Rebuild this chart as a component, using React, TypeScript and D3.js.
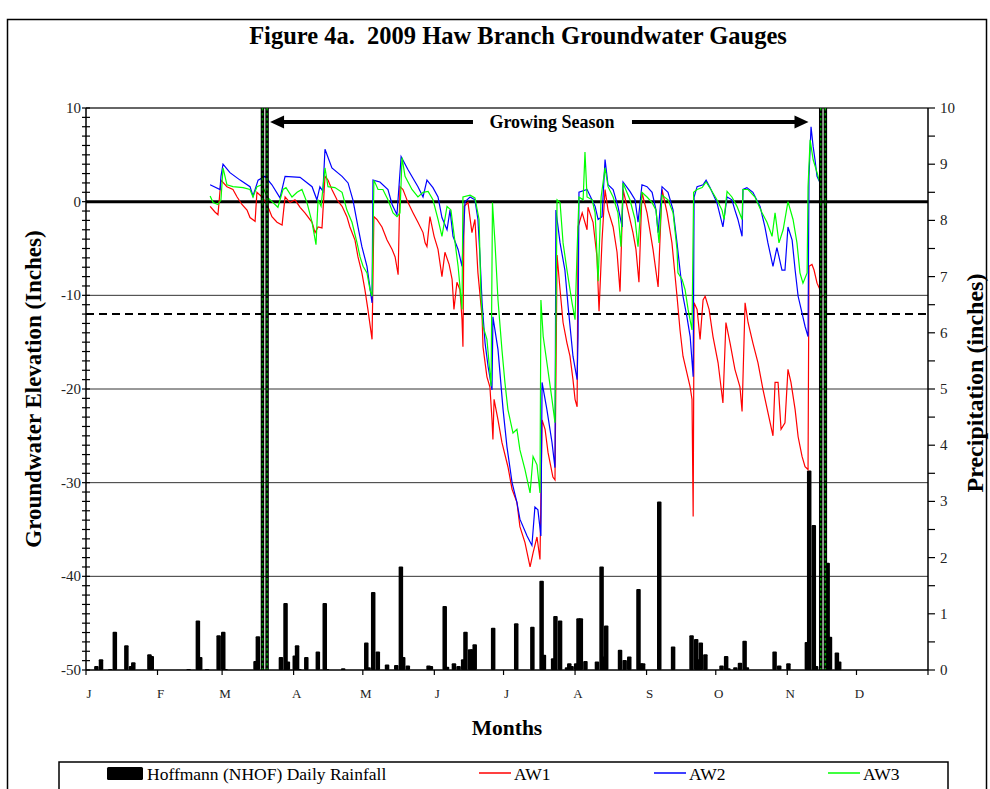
import { useEffect, useRef } from 'react';
import * as d3 from 'd3';

// x axis: day of 2009 (0 = Jan 1)
const monthLabels = ['J', 'F', 'M', 'A', 'M', 'J', 'J', 'A', 'S', 'O', 'N', 'D'];
const monthStarts = [0, 31, 59, 90, 120, 151, 181, 212, 243, 273, 304, 334, 365];

const gwTicks = [10, 0, -10, -20, -30, -40, -50];
const precipTicks = [10, 9, 8, 7, 6, 5, 4, 3, 2, 1, 0];
const gridLevels = [-10, -20, -30, -40];
const criteriaLevel = -12;

// growing season boundaries (double lines) and arrow span
const growingSeasonLines = [76.5, 78.5, 318.5, 320.5];
const arrowSpan = [79.8, 313.2];

// groundwater levels [day, inches]
const aw1: [number, number][] = [
  [53.8, -0.5], [55.9, -1.1], [57.2, -1.4], [58.5, 2.3], [61.1, 1.6], [63.7, 1.3], [65.5, 0.5], [67.6, -0.3],
  [69.8, -0.9], [71.1, -1.7], [73.3, -2.1], [74.1, 1.0], [76.3, 0.5], [78.5, -0.3], [80.6, -1.6], [82.8, -2.2],
  [85.0, -2.5], [86.3, 0.5], [88.4, -0.1], [90.6, 0.2], [92.8, -0.6], [94.9, -1.2], [98.0, -2.2], [99.3, -3.3],
  [100.6, -2.7], [102.3, -2.8], [103.6, 2.7], [104.9, 2.3], [106.6, 1.3], [108.8, 0.2], [111.0, -0.5], [113.1, -1.6],
  [114.4, -2.7], [116.6, -4.1], [117.9, -5.9], [119.6, -7.6], [120.9, -9.4], [122.2, -11.5], [124.0, -14.7],
  [124.8, -1.6], [126.1, -1.9], [128.3, -2.7], [130.5, -4.1], [132.7, -5.1], [134.0, -5.9], [135.3, -7.8],
  [136.1, 1.6], [137.4, 1.3], [139.6, -0.1], [141.8, -1.2], [143.9, -2.2], [146.1, -3.3], [147.0, -4.4],
  [147.8, -4.8], [149.1, -1.6], [150.9, -3.7], [152.6, -5.1], [154.3, -8.0], [155.6, -5.4], [157.4, -6.7],
  [158.7, -8.3], [159.5, -11.5], [160.8, -8.6], [162.1, -9.4], [163.0, -12.6], [163.4, -15.5], [163.9, -0.5],
  [165.6, -0.1], [167.3, -3.3], [168.6, -1.9], [169.9, -7.6], [171.7, -12.3], [172.1, -15.5], [173.8, -18.7],
  [175.1, -19.8], [176.0, -23.3], [176.4, -25.4], [176.9, -21.1], [178.6, -23.3], [180.3, -25.7], [182.9, -28.3],
  [184.7, -30.7], [186.8, -32.1], [188.1, -34.7], [190.3, -36.4], [192.5, -39.0], [193.8, -37.5], [195.5, -35.8],
  [196.8, -38.2], [197.7, -23.3], [199.0, -24.3], [200.3, -26.8], [202.4, -29.4], [203.3, -29.7], [204.2, -5.7],
  [205.5, -9.4], [206.8, -12.9], [208.5, -15.1], [209.8, -16.5], [211.1, -19.0], [212.0, -21.1], [212.9, -21.9],
  [213.3, -2.7], [215.1, -1.2], [217.2, -3.0], [217.6, -0.6], [219.8, -2.2], [221.5, -5.9], [222.4, -11.7],
  [223.7, -4.1], [225.0, 1.3], [226.3, -0.9], [228.5, -2.7], [230.2, -5.4], [231.5, -9.6], [232.8, 1.3],
  [234.9, -0.9], [237.1, -3.3], [238.4, -5.1], [239.7, -8.6], [241.0, 1.0], [243.2, -1.2], [245.8, -5.1],
  [248.0, -9.1], [249.7, 1.3], [251.9, -1.2], [254.0, -4.4], [256.2, -10.1], [257.5, -13.7], [258.8, -16.5],
  [260.5, -18.3], [261.9, -19.8], [262.7, -21.1], [263.2, -33.6], [263.6, -10.8], [264.9, -11.5], [266.2, -14.7],
  [267.5, -10.5], [268.4, -10.1], [270.1, -11.5], [271.8, -14.4], [274.0, -17.2], [276.1, -21.5], [277.4, -12.9],
  [279.2, -15.1], [281.3, -17.9], [283.5, -19.8], [284.4, -22.4], [285.7, -10.8], [287.0, -12.9], [289.1, -15.1],
  [291.3, -17.2], [293.5, -20.1], [295.6, -22.5], [297.8, -25.0], [298.7, -19.3], [300.0, -19.3], [301.3, -24.3],
  [303.0, -23.6], [304.3, -17.9], [305.6, -19.3], [307.4, -22.2], [308.7, -25.1], [310.4, -27.2], [311.7, -28.3],
  [313.0, -28.6], [313.4, -6.9], [314.7, -6.7], [315.6, -7.3], [316.9, -8.7], [318.2, -9.4], [319.1, -10.2],
];

const aw2: [number, number][] = [
  [53.8, 1.8], [58.1, 1.3], [58.5, 2.7], [59.4, 4.0], [62.4, 3.1], [66.8, 2.3], [71.1, 1.6], [72.4, 0.6],
  [74.6, 2.3], [77.6, 2.7], [80.6, 1.8], [84.1, 0.4], [86.3, 2.7], [92.8, 2.6], [98.0, 1.6], [100.1, 0.2],
  [101.4, 1.6], [102.7, 1.1], [103.6, 5.6], [106.6, 3.6], [111.0, 2.7], [113.6, 2.0], [115.7, 0.2], [117.9, -2.7],
  [119.6, -4.8], [121.8, -6.9], [124.0, -10.8], [124.4, 2.3], [127.4, 2.1], [130.9, 1.3], [132.7, -0.3],
  [134.8, -1.4], [136.6, 4.8], [139.6, 3.4], [143.9, 1.6], [146.1, 0.5], [147.8, 2.3], [150.4, 1.5], [152.6, 0.5],
  [154.3, -1.7], [156.5, -3.0], [157.8, -0.9], [159.1, -3.7], [161.3, -5.1], [163.0, -6.9], [164.3, 0.0],
  [166.5, 0.5], [168.6, 0.2], [169.9, -1.9], [170.8, -5.9], [171.7, -10.8], [173.0, -15.1], [174.3, -17.6],
  [176.0, -20.1], [176.4, -12.3], [178.6, -15.8], [180.8, -22.2], [182.5, -26.2], [184.7, -30.0], [186.8, -32.1],
  [188.1, -33.9], [191.2, -35.7], [193.3, -36.7], [194.6, -32.6], [195.9, -32.9], [197.2, -35.7], [197.7, -19.3],
  [199.8, -22.2], [202.0, -25.7], [203.3, -28.4], [203.7, -0.9], [205.5, -4.4], [207.6, -7.3], [209.0, -11.2],
  [211.1, -16.5], [212.9, -19.0], [213.3, -14.4], [213.7, 1.0], [217.2, 1.3], [220.7, -0.5], [222.0, -1.9],
  [223.7, -1.6], [225.0, 4.5], [226.3, 1.8], [228.5, 1.3], [230.6, -0.5], [232.4, -2.7], [232.8, 2.1],
  [235.8, 1.1], [238.0, 0.2], [239.3, -2.2], [241.0, 1.8], [243.2, 1.6], [245.4, 1.0], [247.1, -0.9],
  [248.0, -3.3], [249.7, 1.6], [252.3, 1.0], [254.5, -0.9], [256.2, -4.4], [257.5, -7.3], [258.8, -10.1],
  [260.5, -12.3], [261.9, -14.4], [263.2, -18.7], [263.6, 0.5], [264.9, 1.6], [267.5, 1.8], [268.8, 2.3],
  [270.5, 1.5], [273.5, -0.1], [276.1, -2.7], [277.9, 0.5], [280.0, 0.2], [281.3, -0.9], [282.6, -1.9],
  [284.4, -3.7], [284.8, 1.3], [286.5, 1.5], [289.1, 1.0], [292.2, -0.5], [294.3, -2.7], [295.6, -4.4],
  [297.8, -6.9], [299.5, -4.9], [301.7, -7.3], [303.0, -7.3], [304.3, -2.7], [306.1, -4.1], [307.4, -7.3],
  [308.7, -10.1], [310.4, -11.9], [311.7, -13.3], [313.0, -14.4], [313.4, 2.7], [314.3, 8.0], [315.2, 5.9],
  [316.0, 4.5], [316.9, 2.7], [318.6, 1.8],
];

const aw3: [number, number][] = [
  [53.8, 0.6], [55.1, -0.1], [57.2, -0.3], [58.5, 0.2], [59.4, 3.6], [61.1, 1.8], [63.7, 1.6], [68.1, 1.5],
  [71.1, 1.3], [72.4, 0.5], [74.1, 1.6], [76.3, 1.8], [78.5, 0.5], [81.1, -0.1], [83.2, -0.6], [85.4, 1.3],
  [86.7, 1.5], [89.3, 0.5], [91.5, 1.0], [93.6, 1.3], [95.8, -0.1], [98.0, -2.2], [99.7, -4.6], [100.6, 0.2],
  [101.9, -0.5], [103.6, 3.6], [104.9, 1.6], [107.9, 1.5], [111.0, 1.0], [113.1, -0.9], [115.3, -2.2],
  [117.5, -4.4], [118.8, -5.9], [120.1, -6.9], [121.8, -7.6], [123.1, -9.4], [124.0, -10.1], [124.8, 2.3],
  [126.6, 1.3], [128.7, 1.3], [130.9, 0.2], [133.1, -1.2], [134.8, -1.6], [136.1, -1.2], [137.0, 4.7],
  [138.3, 2.7], [141.3, 1.3], [143.9, 0.5], [146.1, 1.0], [148.3, 1.1], [150.4, 0.2], [152.6, -1.9],
  [154.3, -3.7], [156.5, -0.5], [158.2, -0.9], [160.0, -4.4], [161.3, -6.9], [163.0, -11.5], [163.4, 0.5],
  [166.5, 0.7], [168.6, 0.4], [170.4, -1.9], [171.2, -10.1], [172.1, -13.3], [173.8, -14.7], [174.7, -17.2],
  [175.6, -19.7], [176.2, -0.1], [177.3, -4.4], [178.6, -10.5], [180.3, -15.8], [181.6, -19.3], [182.9, -22.2],
  [185.1, -24.7], [186.8, -24.3], [188.1, -26.5], [190.3, -28.6], [192.5, -31.1], [193.8, -27.2], [195.5, -28.1],
  [196.8, -31.1], [197.2, -10.5], [198.2, -14.4], [199.8, -17.2], [202.0, -21.1], [203.3, -23.6], [204.2, 0.2],
  [205.5, -0.1], [206.8, -4.4], [208.5, -7.3], [210.7, -10.8], [212.0, -12.6], [212.9, -5.1], [213.7, 0.5],
  [215.5, 0.2], [216.3, 5.3], [217.2, 0.5], [219.4, 0.2], [220.7, -1.2], [222.0, -8.5], [223.3, 0.5],
  [225.0, 3.6], [226.3, 1.6], [228.5, 0.5], [230.6, -1.2], [231.9, -4.8], [232.8, 2.0], [235.8, 0.2],
  [238.0, -1.9], [239.3, -4.8], [241.0, 1.0], [243.2, 0.5], [245.4, -0.1], [247.1, -0.9], [248.4, -4.4],
  [249.7, 0.7], [252.3, 0.2], [254.5, -1.2], [256.2, -5.1], [256.6, -7.6], [258.4, -8.3], [259.7, -9.4],
  [261.0, -11.5], [262.7, -13.7], [263.4, 1.0], [264.9, 1.3], [267.1, 1.5], [268.8, 2.1], [270.9, 1.3],
  [273.5, 0.2], [275.7, -0.9], [276.6, -1.9], [277.9, 1.1], [280.0, 0.5], [282.2, -0.5], [284.4, -1.9],
  [284.8, 1.3], [287.0, 1.3], [290.0, 0.5], [293.1, -1.2], [295.2, -2.2], [297.4, -3.7], [298.7, -1.2],
  [300.4, -4.4], [302.2, -3.0], [304.3, 0.0], [306.5, -1.9], [308.2, -4.4], [309.5, -7.6], [310.8, -8.7],
  [312.6, -7.6], [313.0, 1.6], [313.9, 6.6], [315.2, 4.5], [316.9, 3.1], [318.6, 1.6],
];

// Hoffmann (NHOF) daily rainfall [day, inches]
const rainfall: [number, number][] = [
  [4, 0.07], [6, 0.19], [10, 0.02], [12, 0.68], [17, 0.44], [19, 0.07], [20, 0.14], [27, 0.28], [28, 0.25],
  [44, 0.02], [48, 0.88], [49, 0.23], [52, 0.02], [57, 0.62], [59, 0.68], [60, 0.02], [73, 0.16], [74, 0.6],
  [84, 0.23], [86, 1.19], [87, 0.15], [90, 0.26], [91, 0.44], [92, 0.02], [95, 0.23], [100, 0.33], [103, 1.19],
  [104, 0.02], [111, 0.03], [121, 0.49], [122, 0.05], [124, 1.39], [126, 0.33], [130, 0.1], [134, 0.09],
  [136, 1.84], [137, 0.23], [139, 0.08], [148, 0.08], [149, 0.07], [155, 1.14], [156, 0.06], [159, 0.12],
  [161, 0.07], [163, 0.19], [164, 0.68], [166, 0.37], [167, 0.37], [168, 0.46], [176, 0.75], [186, 0.83],
  [193, 0.77], [197, 1.59], [198, 0.27], [202, 0.21], [203, 0.96], [205, 0.88], [208, 0.05], [209, 0.12],
  [210, 0.07], [212, 0.12], [213, 0.92], [214, 0.92], [216, 0.16], [221, 0.15], [223, 1.84], [224, 0.24],
  [225, 0.79], [231, 0.36], [233, 0.18], [235, 0.24], [239, 1.44], [240, 0.12], [241, 0.12], [248, 3.0],
  [254, 0.42], [262, 0.62], [264, 0.55], [265, 0.19], [266, 0.49], [268, 0.28], [275, 0.08], [277, 0.25],
  [278, 0.03], [281, 0.05], [283, 0.13], [285, 0.52], [286, 0.05], [298, 0.33], [300, 0.08], [304, 0.12],
  [312, 0.5], [313, 3.55], [315, 2.58], [316, 0.07], [321, 1.91], [322, 0.59], [325, 0.31], [326, 0.15],
];

const series = [
  { name: 'AW1', data: aw1, color: '#ff0000' },
  { name: 'AW2', data: aw2, color: '#0000ff' },
  { name: 'AW3', data: aw3, color: '#00ff00' },
];

const serif = "'Liberation Serif', 'Times New Roman', serif";

export default function App() {
  const svgRef = useRef<SVGSVGElement>(null);
  const width = 990;
  const height = 789;

  useEffect(() => {
    if (!svgRef.current) return;
    const svg = d3.select(svgRef.current);
    svg.selectAll('*').remove();

    const plot = { left: 86, right: 928, top: 108, bottom: 670 };
    const x = d3.scaleLinear().domain([0, 365]).range([plot.left, plot.right]);
    const y = d3.scaleLinear().domain([-50, 10]).range([plot.bottom, plot.top]);
    const yR = d3.scaleLinear().domain([0, 10]).range([plot.bottom, plot.top]);

    svg.append('rect').attr('width', width).attr('height', height).attr('fill', '#fff');

    // outer frame
    svg.append('rect')
      .attr('x', 7.5).attr('y', 19.5).attr('width', 979).attr('height', 800)
      .attr('fill', 'none').attr('stroke', '#000').attr('stroke-width', 1.5);

    // title
    svg.append('text')
      .attr('x', 518).attr('y', 44)
      .attr('text-anchor', 'middle')
      .style('white-space', 'pre')
      .style('font-family', serif).style('font-weight', 'bold').style('font-size', '24.5px')
      .text('Figure 4a.  2009 Haw Branch Groundwater Gauges');

    // grid lines
    svg.append('line')
      .attr('x1', plot.left).attr('x2', plot.right).attr('y1', y(10)).attr('y2', y(10))
      .attr('stroke', '#333').attr('stroke-width', 1.5);
    svg.selectAll('.grid')
      .data(gridLevels)
      .enter().append('line')
      .attr('x1', plot.left).attr('x2', plot.right)
      .attr('y1', d => y(d)).attr('y2', d => y(d))
      .attr('stroke', '#333').attr('stroke-width', 1);

    // rainfall bars
    svg.selectAll('.bar')
      .data(rainfall)
      .enter().append('rect')
      .attr('x', d => x(d[0] + 0.5) - 2.25)
      .attr('y', d => yR(d[1]))
      .attr('width', 4.5)
      .attr('height', d => plot.bottom - yR(d[1]))
      .attr('rx', 1)
      .attr('fill', '#000');

    // criteria line and zero line
    svg.append('line')
      .attr('x1', plot.left).attr('x2', plot.right)
      .attr('y1', y(criteriaLevel)).attr('y2', y(criteriaLevel))
      .attr('stroke', '#000').attr('stroke-width', 2).attr('stroke-dasharray', '8,5');
    svg.append('line')
      .attr('x1', plot.left).attr('x2', plot.right).attr('y1', y(0)).attr('y2', y(0))
      .attr('stroke', '#000').attr('stroke-width', 3);

    // groundwater lines
    const line = d3.line<[number, number]>().x(d => x(d[0])).y(d => y(d[1]));
    series.forEach(s => {
      svg.append('path')
        .attr('d', line(s.data) || '')
        .attr('fill', 'none')
        .attr('stroke', s.color)
        .attr('stroke-width', 1.2);
    });

    // growing season boundaries
    growingSeasonLines.forEach(d => {
      svg.append('line')
        .attr('x1', x(d)).attr('x2', x(d)).attr('y1', plot.top).attr('y2', plot.bottom)
        .attr('stroke', '#000').attr('stroke-width', 3.5);
      svg.append('line')
        .attr('x1', x(d)).attr('x2', x(d)).attr('y1', plot.top).attr('y2', plot.bottom)
        .attr('stroke', '#00a000').attr('stroke-width', 1.5).attr('stroke-dasharray', '2.5,2.5');
    });

    // growing season arrow
    const ay = 122;
    const textCenter = 202;
    const g = svg.append('g');
    g.append('line')
      .attr('x1', x(arrowSpan[0]) + 12).attr('x2', x(textCenter) - 79)
      .attr('y1', ay).attr('y2', ay).attr('stroke', '#000').attr('stroke-width', 4);
    g.append('line')
      .attr('x1', x(textCenter) + 80).attr('x2', x(arrowSpan[1]) - 12)
      .attr('y1', ay).attr('y2', ay).attr('stroke', '#000').attr('stroke-width', 4);
    const lx = x(arrowSpan[0]);
    const rx = x(arrowSpan[1]);
    g.append('path')
      .attr('d', `M${lx},${ay} L${lx + 14},${ay - 6.5} L${lx + 14},${ay + 6.5} Z`)
      .attr('fill', '#000');
    g.append('path')
      .attr('d', `M${rx},${ay} L${rx - 14},${ay - 6.5} L${rx - 14},${ay + 6.5} Z`)
      .attr('fill', '#000');
    g.append('text')
      .attr('x', x(textCenter)).attr('y', ay + 6)
      .attr('text-anchor', 'middle')
      .style('font-family', serif).style('font-weight', 'bold').style('font-size', '18px')
      .text('Growing Season');

    // left axis
    svg.append('line')
      .attr('x1', plot.left).attr('x2', plot.left).attr('y1', plot.top).attr('y2', plot.bottom)
      .attr('stroke', '#000').attr('stroke-width', 1.5);
    svg.selectAll('.ltick')
      .data(d3.range(-50, 11, 1))
      .enter().append('line')
      .attr('x1', plot.left - 4).attr('x2', plot.left + 4)
      .attr('y1', d => y(d)).attr('y2', d => y(d))
      .attr('stroke', '#000').attr('stroke-width', 1.2);
    svg.selectAll('.llabel')
      .data(gwTicks)
      .enter().append('text')
      .attr('x', plot.left - 5).attr('y', d => y(d) + 5)
      .attr('text-anchor', 'end')
      .style('font-family', serif).style('font-size', '15px').style('fill', '#222')
      .text(d => String(d));

    // right axis
    svg.append('line')
      .attr('x1', plot.right).attr('x2', plot.right).attr('y1', plot.top).attr('y2', plot.bottom)
      .attr('stroke', '#000').attr('stroke-width', 1.5);
    svg.selectAll('.rtick')
      .data(d3.range(0, 10.01, 0.5))
      .enter().append('line')
      .attr('x1', plot.right).attr('x2', plot.right + 7)
      .attr('y1', d => yR(d)).attr('y2', d => yR(d))
      .attr('stroke', '#000').attr('stroke-width', 1.2);
    svg.selectAll('.rlabel')
      .data(precipTicks)
      .enter().append('text')
      .attr('x', plot.right + 12).attr('y', d => yR(d) + 5)
      .style('font-family', serif).style('font-size', '15px').style('fill', '#222')
      .text(d => String(d));

    // bottom axis
    svg.append('line')
      .attr('x1', plot.left).attr('x2', plot.right).attr('y1', plot.bottom).attr('y2', plot.bottom)
      .attr('stroke', '#000').attr('stroke-width', 1.5);
    svg.selectAll('.btick')
      .data(monthStarts)
      .enter().append('line')
      .attr('x1', d => x(d)).attr('x2', d => x(d))
      .attr('y1', plot.bottom).attr('y2', plot.bottom + 5)
      .attr('stroke', '#000').attr('stroke-width', 1.2);
    svg.selectAll('.blabel')
      .data(monthLabels)
      .enter().append('text')
      .attr('x', (d, i) => x(monthStarts[i]) + 3)
      .attr('y', 698)
      .attr('text-anchor', 'middle')
      .style('font-family', serif).style('font-size', '13px').style('fill', '#222')
      .text(d => d);

    // axis titles
    svg.append('text')
      .attr('x', 507).attr('y', 735)
      .attr('text-anchor', 'middle')
      .style('font-family', serif).style('font-weight', 'bold').style('font-size', '21.5px')
      .text('Months');
    svg.append('text')
      .attr('transform', 'translate(41,389) rotate(-90)')
      .attr('text-anchor', 'middle')
      .style('font-family', serif).style('font-weight', 'bold').style('font-size', '23px')
      .text('Groundwater Elevation (Inches)');
    svg.append('text')
      .attr('transform', 'translate(983,383) rotate(-90)')
      .attr('text-anchor', 'middle')
      .style('font-family', serif).style('font-weight', 'bold').style('font-size', '24px')
      .text('Precipitation (inches)');

    // legend
    const legend = svg.append('g');
    legend.append('rect')
      .attr('x', 59).attr('y', 762).attr('width', 889).attr('height', 40)
      .attr('fill', '#fff').attr('stroke', '#000').attr('stroke-width', 1.5);
    legend.append('rect')
      .attr('x', 107).attr('y', 767).attr('width', 36).attr('height', 13).attr('rx', 1.5)
      .attr('fill', '#000');
    legend.append('text')
      .attr('x', 147).attr('y', 780)
      .style('font-family', serif).style('font-size', '17.5px')
      .text('Hoffmann (NHOF) Daily Rainfall');
    const legendX = [479, 654, 828];
    series.forEach((s, i) => {
      legend.append('line')
        .attr('x1', legendX[i]).attr('x2', legendX[i] + 32)
        .attr('y1', 773).attr('y2', 773)
        .attr('stroke', s.color).attr('stroke-width', 1.5);
      legend.append('text')
        .attr('x', legendX[i] + 35).attr('y', 780)
        .style('font-family', serif).style('font-size', '17.5px')
        .text(s.name);
    });
  }, []);

  return (
    <div style={{ position: 'absolute', left: 0, top: 0 }}>
      <svg ref={svgRef} width={width} height={height} style={{ display: 'block' }} />
    </div>
  );
}
